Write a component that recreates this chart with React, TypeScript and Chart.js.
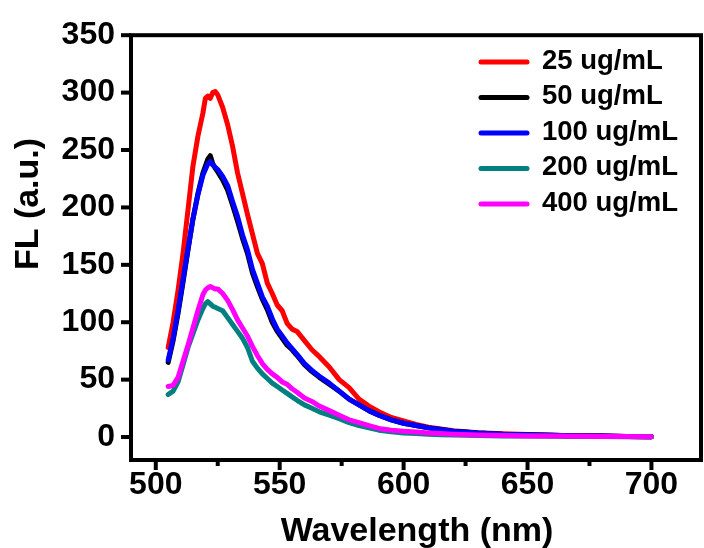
import React, { useEffect, useRef } from "react";
import { Chart, registerables } from "chart.js";

Chart.register(...registerables);

// ---- data ----
const wavelengths = [
  505, 507, 509, 511, 513, 515, 517, 519, 520, 521, 522, 523, 524, 525, 527, 529, 531, 533, 535, 537,
  539, 541, 543, 545, 547, 549, 551, 553, 555, 557, 560, 563, 566, 570, 574, 578, 582, 586, 590, 595,
  600, 605, 610, 615, 620, 630, 640, 650, 660, 670, 680, 690, 700,
];

const fl25 = [
  78, 100, 128, 160, 198, 236, 262, 282, 295, 297, 295, 300, 301, 298, 287, 272, 253, 230, 212, 194,
  177, 160, 151, 134, 125, 115, 110, 99, 94, 92, 84, 76, 70, 61, 50, 43, 33, 27, 22, 17,
  14, 11, 8.5, 7, 5.5, 3.8, 2.8, 2.2, 1.6, 1.1, 0.8, 0.5, 0.3,
];

const fl50 = [
  65, 84, 108, 135, 163, 190, 212, 230, 236, 242, 245, 238, 234, 231, 224, 215, 202, 188, 173, 160,
  143, 131, 120, 111, 100, 92, 86, 80, 76, 71, 63, 57, 52, 46, 40, 33, 28, 23, 19, 15,
  12, 10, 8, 6.5, 5, 3.5, 2.5, 2, 1.5, 1, 0.8, 0.5, 0.3,
];

const fl100 = [
  67, 86, 110, 137, 164, 190, 211, 228, 233, 238, 240, 237, 235, 233, 227, 219, 205, 192, 176, 163,
  146, 134, 122, 114, 103, 94, 88, 82, 77, 72, 64, 58, 53, 47, 40, 33, 28, 23, 19, 15,
  12, 10, 8, 6.5, 5, 3.5, 2.5, 2, 1.5, 1, 0.8, 0.5, 0.3,
];

const fl200 = [
  37, 40, 48, 63, 78, 90, 102, 112, 116, 118, 116, 114, 113, 112, 110, 104, 98, 92, 86, 78,
  66, 60, 55, 51, 47, 44, 41, 38, 35, 32, 28, 25, 22, 19, 16, 12.5, 10, 8, 6, 4.5,
  3.5, 3, 2.5, 2, 1.8, 1.3, 1, 0.8, 0.6, 0.5, 0.4, 0.3, 0.2,
];

const fl400 = [
  44, 45, 52, 66, 80, 95, 110, 124, 128, 130, 131, 130, 129, 129, 125, 119, 111, 102, 95, 88,
  79, 71, 64, 59, 55, 52, 48, 46, 42, 39, 34, 31, 27, 23, 19, 15, 12.5, 10, 7.5, 6,
  5, 4.3, 3.6, 3, 2.5, 1.8, 1.3, 1, 0.8, 0.6, 0.5, 0.4, 0.3,
];

const seriesLabels = ["25 ug/mL", "50 ug/mL", "100 ug/mL", "200 ug/mL", "400 ug/mL"];
const seriesColors = ["#ff0000", "#000000", "#0000ff", "#008080", "#ff00ff"];
const seriesValues = [fl25, fl50, fl100, fl200, fl400];

const yTicks = [0, 50, 100, 150, 200, 250, 300, 350];
const xMajorTicks = [500, 550, 600, 650, 700];
const xMinorTicks = [525, 575, 625, 675];

const xTitle = "Wavelength (nm)";
const yTitle = "FL (a.u.)";

const FONT = 'Arial, "Liberation Sans", Helvetica, sans-serif';

const decorPlugin = {
  id: "decor",
  afterDatasetsDraw(chart: any) {
    const ctx = chart.ctx;
    const { left, right, top, bottom } = chart.chartArea;
    const xs = chart.scales.x;
    const ys = chart.scales.y;
    ctx.save();
    ctx.strokeStyle = "#000";
    ctx.lineWidth = 4;
    ctx.strokeRect(left, top, right - left, bottom - top);
    ctx.lineCap = "butt";
    ctx.lineWidth = 4;
    yTicks.forEach((v) => {
      const y = ys.getPixelForValue(v);
      ctx.beginPath();
      ctx.moveTo(left, y);
      ctx.lineTo(left - 10, y);
      ctx.stroke();
    });
    xMajorTicks.forEach((v) => {
      const x = xs.getPixelForValue(v);
      ctx.beginPath();
      ctx.moveTo(x, bottom);
      ctx.lineTo(x, bottom + 10);
      ctx.stroke();
    });
    xMinorTicks.forEach((v) => {
      const x = xs.getPixelForValue(v);
      ctx.beginPath();
      ctx.moveTo(x, bottom);
      ctx.lineTo(x, bottom + 6);
      ctx.stroke();
    });
    ctx.restore();
  },
  afterDraw(chart: any) {
    const ctx = chart.ctx;
    ctx.save();
    const rowY = [62, 97.5, 133, 168.5, 204];
    seriesLabels.forEach((label, i) => {
      const y = rowY[i];
      ctx.strokeStyle = seriesColors[i];
      ctx.lineWidth = 5;
      ctx.lineCap = "round";
      ctx.beginPath();
      ctx.moveTo(481, y);
      ctx.lineTo(527, y);
      ctx.stroke();
      ctx.fillStyle = "#000";
      ctx.font = `bold 27.5px ${FONT}`;
      ctx.textAlign = "left";
      ctx.textBaseline = "middle";
      ctx.fillText(label, 542, y - 1);
    });
    ctx.fillStyle = "#000";
    ctx.font = `bold 34px ${FONT}`;
    ctx.textAlign = "center";
    ctx.textBaseline = "middle";
    ctx.fillText(xTitle, 417, 532);
    ctx.translate(29, 204);
    ctx.rotate(-Math.PI / 2);
    ctx.font = `bold 34px ${FONT}`;
    ctx.fillText(yTitle, 0, 0);
    ctx.restore();
  },
};

export default function App() {
  const canvasRef = useRef<HTMLCanvasElement | null>(null);

  useEffect(() => {
    const canvas = canvasRef.current;
    if (!canvas) return;
    const chart = new Chart(canvas, {
      type: "line",
      data: {
        datasets: seriesLabels.map((label, i) => ({
          label,
          data: wavelengths.map((w, j) => ({ x: w, y: seriesValues[i][j] })),
          borderColor: seriesColors[i],
          backgroundColor: seriesColors[i],
          borderWidth: 5,
          pointRadius: 0,
          tension: 0,
          borderJoinStyle: "round" as const,
          borderCapStyle: "round" as const,
          order: 5 - i,
        })),
      },
      options: {
        responsive: false,
        animation: false,
        layout: { padding: { top: 30, right: 3, left: 0, bottom: 0 } },
        plugins: {
          legend: { display: false },
          tooltip: { enabled: false },
        },
        scales: {
          x: {
            type: "linear",
            min: 490,
            max: 720,
            grid: { display: false, drawTicks: false },
            border: { display: false },
            afterBuildTicks: (scale: any) => {
              scale.ticks = xMajorTicks.map((v) => ({ value: v }));
            },
            afterFit: (scale: any) => {
              scale.height = 88;
            },
            ticks: {
              color: "#000",
              padding: 6,
              maxRotation: 0,
              font: { family: FONT, size: 32, weight: "bold" },
              callback: (v: any) => String(v),
            },
          },
          y: {
            type: "linear",
            min: -20,
            max: 350,
            grid: { display: false, drawTicks: false },
            border: { display: false },
            afterBuildTicks: (scale: any) => {
              scale.ticks = yTicks.map((v) => ({ value: v }));
            },
            afterFit: (scale: any) => {
              scale.width = 131;
            },
            ticks: {
              color: "#000",
              padding: 16,
              font: { family: FONT, size: 32, weight: "bold" },
              callback: (v: any) => String(v),
            },
          },
        },
      },
      plugins: [decorPlugin],
    });
    return () => chart.destroy();
  }, []);

  return (
    <div style={{ position: "fixed", left: 0, top: 0, width: 704, height: 548, background: "#fff" }}>
      <canvas ref={canvasRef} width={704} height={548} style={{ width: 704, height: 548, display: "block" }} />
    </div>
  );
}
